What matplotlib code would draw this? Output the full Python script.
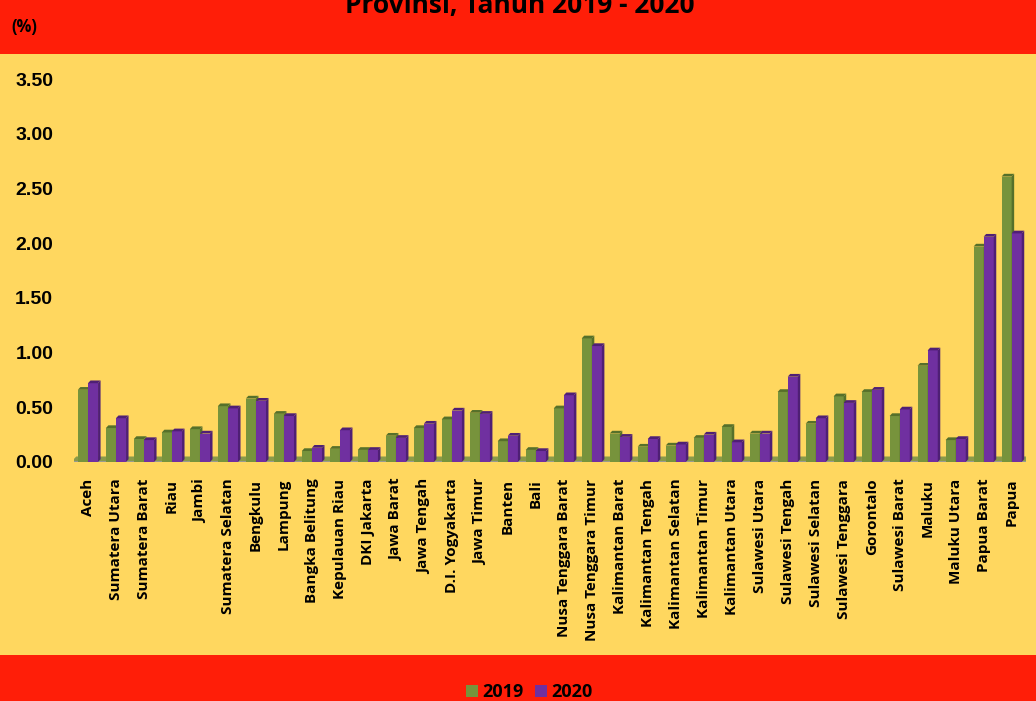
import numpy as np
import matplotlib.pyplot as plt
from matplotlib.patches import Rectangle, Polygon

provinsi = ['Aceh', 'Sumatera Utara', 'Sumatera Barat', 'Riau', 'Jambi',
            'Sumatera Selatan', 'Bengkulu', 'Lampung', 'Bangka Belitung',
            'Kepulauan Riau', 'DKI Jakarta', 'Jawa Barat', 'Jawa Tengah',
            'D.I. Yogyakarta', 'Jawa Timur', 'Banten', 'Bali',
            'Nusa Tenggara Barat', 'Nusa Tenggara Timur', 'Kalimantan Barat',
            'Kalimantan Tengah', 'Kalimantan Selatan', 'Kalimantan Timur',
            'Kalimantan Utara', 'Sulawesi Utara', 'Sulawesi Tengah',
            'Sulawesi Selatan', 'Sulawesi Tenggara', 'Gorontalo',
            'Sulawesi Barat', 'Maluku', 'Maluku Utara', 'Papua Barat', 'Papua']

nilai_2019 = [0.66, 0.31, 0.21, 0.27, 0.30, 0.51, 0.58, 0.44, 0.10, 0.12,
              0.11, 0.24, 0.31, 0.39, 0.45, 0.19, 0.11, 0.49, 1.13, 0.26,
              0.14, 0.15, 0.22, 0.32, 0.26, 0.64, 0.35, 0.60, 0.64, 0.42,
              0.88, 0.20, 1.97, 2.61]
nilai_2020 = [0.72, 0.40, 0.20, 0.28, 0.26, 0.49, 0.56, 0.42, 0.13, 0.29,
              0.11, 0.22, 0.35, 0.47, 0.44, 0.24, 0.10, 0.61, 1.06, 0.23,
              0.21, 0.16, 0.25, 0.18, 0.26, 0.78, 0.40, 0.54, 0.66, 0.48,
              1.02, 0.21, 2.06, 2.09]

tahun = ['2019', '2020']
warna = ['#77933C', '#7030A0']
warna_sisi = ['#56702A', '#4F1F75']

merah = '#FF1E08'
kuning = '#FFD75F'

fig = plt.figure(figsize=(10.36, 7.01), dpi=100, facecolor=merah)

# latar kuning di tengah
fig.patches.append(Rectangle((0, 1 - 655 / 701), 1, (655 - 54) / 701,
                             transform=fig.transFigure, facecolor=kuning,
                             edgecolor='none', zorder=-1))

ax = fig.add_axes([0.0714, 0.341, 0.9186, 0.546])
ax.set_facecolor('none')

x = np.arange(len(provinsi))
lebar = 0.36
dx, dy = 0.09, 0.025  # kedalaman efek 3D

# lantai
ax.add_patch(Polygon([[-0.6, 0], [33.6, 0], [33.6 + 2 * dx, 2 * dy],
                      [-0.6 + 2 * dx, 2 * dy]], closed=True,
                     facecolor='#8A9A4A', edgecolor='none', zorder=1))
ax.axhline(0, color='#9A9A9A', lw=2, zorder=2)

for i, nilai in enumerate([nilai_2019, nilai_2020]):
    pos = x - lebar + i * lebar
    ax.bar(pos, nilai, width=lebar, align='edge', color=warna[i],
           label=tahun[i], zorder=3)
    for p, v in zip(pos, nilai):
        # sisi kanan dan atas
        ax.add_patch(Polygon([[p + lebar, 0], [p + lebar + dx, dy],
                              [p + lebar + dx, v + dy], [p + lebar, v]],
                             closed=True, facecolor=warna_sisi[i],
                             edgecolor='none', zorder=3))
        ax.add_patch(Polygon([[p, v], [p + dx, v + dy],
                              [p + lebar + dx, v + dy], [p + lebar, v]],
                             closed=True, facecolor=warna_sisi[i],
                             edgecolor='none', zorder=3))

ax.set_xlim(-0.5, len(provinsi) - 0.5)
ax.set_ylim(0, 3.5)
ax.set_yticks(np.arange(0, 3.51, 0.5))
ax.set_yticklabels([f'{v:.2f}' for v in np.arange(0, 3.51, 0.5)],
                   fontsize=14, fontweight='bold', family='Liberation Sans')
ax.set_xticks(x)
ax.set_xticklabels(provinsi, rotation=90, fontsize=11, fontweight='bold',
                   family='Open Sans')
ax.tick_params(axis='both', length=0)
ax.tick_params(axis='x', pad=12)
ax.tick_params(axis='y', pad=15)
for s in ax.spines.values():
    s.set_visible(False)

fig.text(0.502, 0.981, 'Provinsi, Tahun 2019 - 2020', ha='center',
         va='baseline', fontsize=19, fontweight='bold', family='Open Sans')
fig.text(0.011, 0.962, '(%)', ha='left', va='center', fontsize=12,
         fontweight='bold', family='Open Sans')

leg = fig.legend(loc='center', bbox_to_anchor=(0.511, 0.013), ncol=2,
                 frameon=False, handlelength=0.65, handleheight=0.65,
                 handletextpad=0.25, columnspacing=0.6,
                 prop={'family': 'Open Sans', 'weight': 'bold', 'size': 13})

fig.savefig('out.png', dpi=100, facecolor=merah)
